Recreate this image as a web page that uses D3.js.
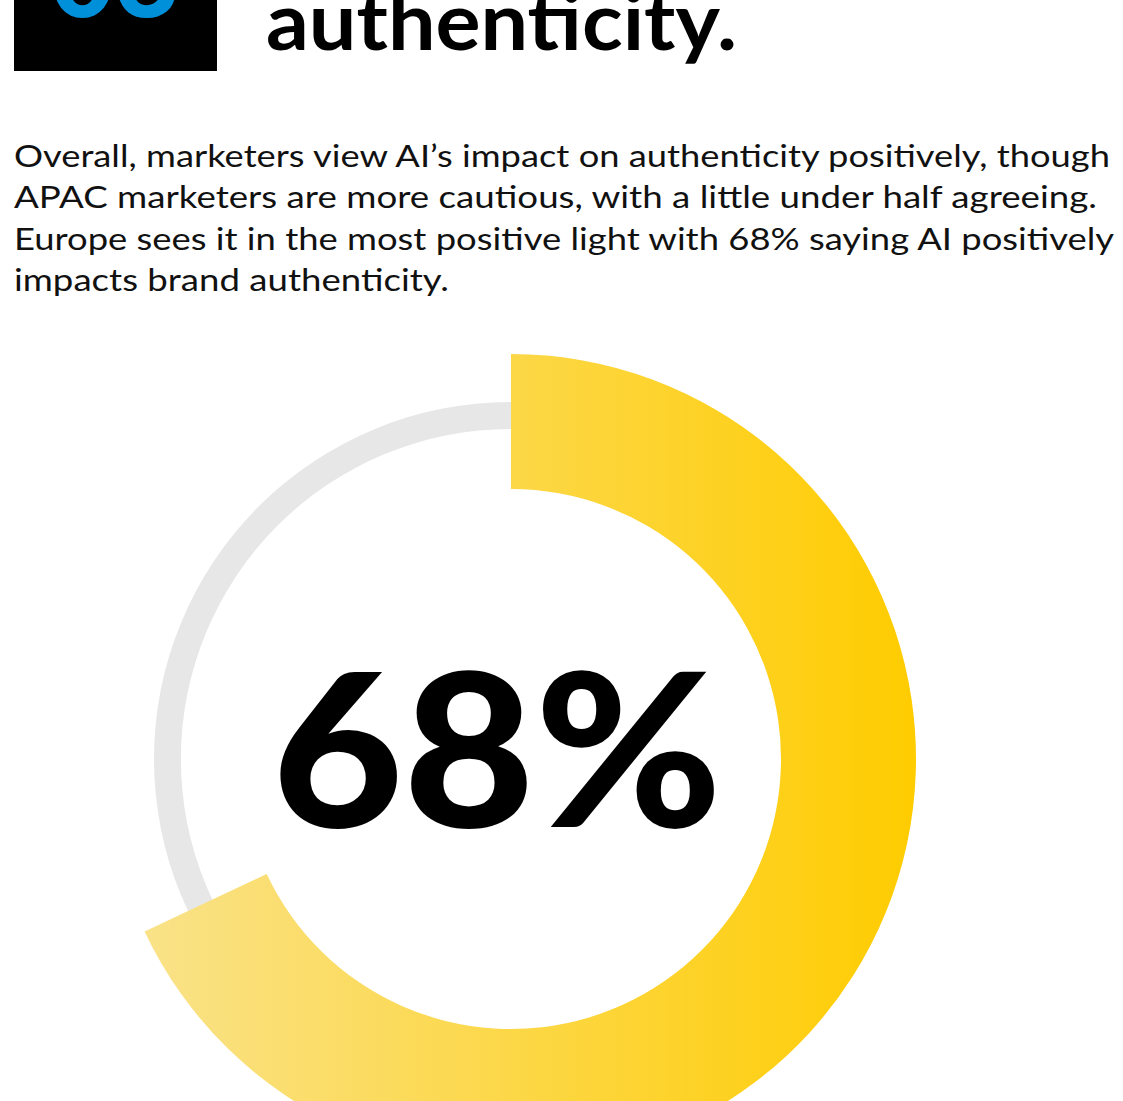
<!DOCTYPE html>
<html>
<head>
<meta charset="utf-8">
<script src="https://cdn.jsdelivr.net/npm/d3@7"></script>
<style>
  html, body { margin: 0; padding: 0; background: #ffffff; overflow: hidden; }
  svg { display: block; }
</style>
</head>
<body>
<svg id="chart" width="1123" height="1101"></svg>
<script>
// Share of marketers agreeing (Europe)
const shareLabels = ["Agree", "Other"];
const shareValues = [68, 32];
const headlineValue = shareValues[0];

const sectionNumber = ["03"];
const headingLines = ["authenticity."];
const bodyLines = [
  "Overall, marketers view AI\u2019s impact on authenticity positively, though",
  "APAC marketers are more cautious, with a little under half agreeing.",
  "Europe sees it in the most positive light with 68% saying AI positively",
  "impacts brand authenticity."
];
const bodyLineEnds = [1110, 1097, 1114, 449];

const svg = d3.select("#chart");

const cx = 511, cy = 759, rOuter = 405, rInner = 270;
const defs = svg.append("defs");

// Gradient for the value arc, pale on the left to gold on the right
// (coordinates are in the donut group's local space)
const grad = defs.append("linearGradient")
  .attr("id", "goldGrad")
  .attr("gradientUnits", "userSpaceOnUse")
  .attr("x1", -rOuter).attr("y1", 0)
  .attr("x2", rOuter).attr("y2", 0);
grad.append("stop").attr("offset", 0).attr("stop-color", "#F9E38F");
grad.append("stop").attr("offset", 1).attr("stop-color", "#FFCC00");

// Header: numbered black tile (runs off the top edge) + heading
const tileClip = defs.append("clipPath").attr("id", "tileClip");
tileClip.append("rect").attr("x", 14).attr("y", 0).attr("width", 203).attr("height", 71);
const tile = svg.append("g").attr("clip-path", "url(#tileClip)");
tile.append("rect").attr("x", 14).attr("y", -40).attr("width", 203).attr("height", 111).attr("fill", "#000");
tile.append("text")
  .attr("x", 115).attr("y", 17)
  .attr("text-anchor", "middle")
  .attr("font-family", "Lato, sans-serif")
  .attr("font-weight", 900)
  .attr("font-size", 112)
  .attr("fill", "#0090DA")
  .text(sectionNumber[0]);

svg.append("text")
  .attr("x", 266).attr("y", 50)
  .attr("font-family", "Lato, sans-serif")
  .attr("font-weight", 700)
  .attr("font-size", 80)
  .attr("fill", "#000")
  .attr("textLength", 471)
  .attr("lengthAdjust", "spacingAndGlyphs")
  .text(headingLines[0]);

// Body copy
const body = svg.append("g")
  .attr("font-family", "Lato, sans-serif")
  .attr("font-size", 31)
  .attr("fill", "#111");
body.selectAll("text")
  .data(bodyLines)
  .join("text")
  .attr("x", 14)
  .attr("y", (d, i) => 167 + i * 41.3)
  .attr("textLength", (d, i) => bodyLineEnds[i] - 14)
  .attr("lengthAdjust", "spacingAndGlyphs")
  .text(d => d);

// Donut
const angle = d3.scaleLinear().domain([0, 100]).range([0, 2 * Math.PI]);
const g = svg.append("g").attr("transform", `translate(${cx},${cy})`);

// Track ring
g.append("path")
  .attr("d", d3.arc().innerRadius(330).outerRadius(357)
    .startAngle(angle(0)).endAngle(angle(100))())
  .attr("fill", "#E7E7E7");

// Value arc
const pie = d3.pie().sort(null).value(d => d)
  .startAngle(angle(0)).endAngle(angle(100));
const slices = pie(shareValues);
g.append("path")
  .datum(slices[0])
  .attr("d", d3.arc().innerRadius(rInner).outerRadius(rOuter))
  .attr("fill", "url(#goldGrad)");

// Centre value
g.append("text")
  .attr("x", 272 - cx).attr("y", 827 - cy)
  .attr("font-family", "Lato, sans-serif")
  .attr("font-weight", 900)
  .attr("font-size", 214)
  .attr("fill", "#000")
  .attr("textLength", 450)
  .attr("lengthAdjust", "spacingAndGlyphs")
  .text(headlineValue + "%");
</script>
</body>
</html>
